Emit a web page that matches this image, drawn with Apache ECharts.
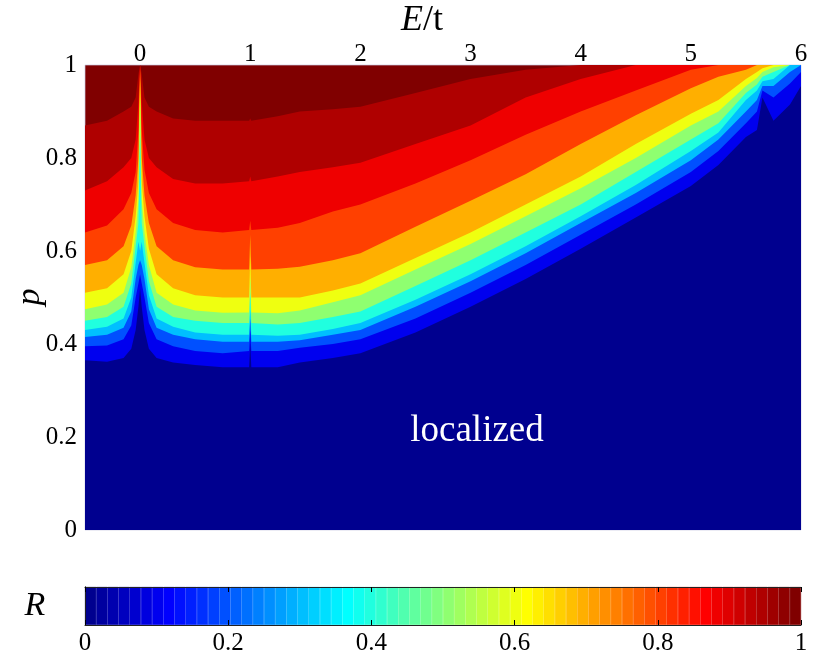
<!DOCTYPE html>
<html>
<head>
<meta charset="utf-8">
<title>R(E, p)</title>
<script src="https://cdn.jsdelivr.net/npm/echarts@6/dist/echarts.min.js"></script>
<style>
  html, body { margin: 0; padding: 0; background: #fff; }
  #main { width: 830px; height: 669px; }
</style>
</head>
<body>
<div id="main"></div>
<script>
const energy = [-0.5, -0.3, -0.15, -0.08, -0.04, -0.015, 0, 0.015, 0.04, 0.08, 0.15, 0.3, 0.5, 0.75,
  0.99, 1.0, 1.01, 1.25, 1.45, 1.75, 2.0, 2.5, 3.0, 3.5, 4.0, 4.5, 5.0, 5.25, 5.5, 5.6, 5.65, 5.75, 5.9, 6.0];

// R levels of the contours
const levels = [0.05, 0.15, 0.25, 0.35, 0.45, 0.55, 0.65, 0.75, 0.85, 0.92, 0.97];

// p at which R crosses each level, one array per level
const pR05 = [0.365, 0.362, 0.37, 0.39, 0.43, 0.48, 0.52, 0.48, 0.43, 0.39, 0.37, 0.36, 0.355, 0.35,
  0.35, 0.40, 0.35, 0.35, 0.36, 0.37, 0.38, 0.425, 0.48, 0.54, 0.605, 0.672, 0.74, 0.785, 0.845, 0.86, 0.93, 0.88, 0.915, 0.955];
const pR15 = [0.395, 0.397, 0.41, 0.44, 0.50, 0.53, 0.55, 0.53, 0.50, 0.445, 0.41, 0.395, 0.385, 0.38,
  0.385, 0.43, 0.385, 0.385, 0.392, 0.40, 0.41, 0.455, 0.51, 0.57, 0.635, 0.70, 0.77, 0.815, 0.875, 0.90, 0.945, 0.93, 0.96, 0.985];
const pR25 = [0.415, 0.42, 0.435, 0.47, 0.54, 0.57, 0.58, 0.57, 0.54, 0.475, 0.435, 0.42, 0.41, 0.405,
  0.405, 0.455, 0.405, 0.405, 0.408, 0.42, 0.43, 0.48, 0.535, 0.595, 0.66, 0.725, 0.795, 0.84, 0.90, 0.925, 0.955, 0.955, 0.985, 1];
const pR35 = [0.43, 0.437, 0.455, 0.50, 0.575, 0.62, 0.60, 0.62, 0.575, 0.505, 0.455, 0.437, 0.425, 0.42,
  0.42, 0.475, 0.42, 0.418, 0.42, 0.432, 0.445, 0.495, 0.55, 0.61, 0.675, 0.742, 0.815, 0.855, 0.925, 0.945, 0.965, 0.97, 1, 1];
const pR45 = [0.45, 0.458, 0.48, 0.53, 0.61, 0.66, 0.85, 0.66, 0.61, 0.535, 0.48, 0.458, 0.45, 0.445,
  0.445, 0.51, 0.445, 0.442, 0.445, 0.458, 0.47, 0.525, 0.58, 0.64, 0.70, 0.77, 0.84, 0.875, 0.94, 0.958, 0.975, 0.985, 1, 1];
const pR55 = [0.475, 0.485, 0.51, 0.565, 0.64, 0.71, 0.93, 0.71, 0.64, 0.57, 0.51, 0.485, 0.472, 0.467,
  0.468, 0.545, 0.468, 0.466, 0.472, 0.49, 0.505, 0.56, 0.615, 0.675, 0.735, 0.80, 0.87, 0.90, 0.955, 0.972, 0.985, 0.995, 1, 1];
const pR65 = [0.51, 0.52, 0.55, 0.60, 0.675, 0.75, 0.97, 0.75, 0.675, 0.605, 0.55, 0.52, 0.505, 0.50,
  0.50, 0.59, 0.50, 0.50, 0.50, 0.515, 0.53, 0.585, 0.64, 0.70, 0.76, 0.83, 0.895, 0.925, 0.97, 0.985, 0.993, 1, 1, 1];
const pR75 = [0.57, 0.58, 0.61, 0.655, 0.72, 0.80, 0.99, 0.80, 0.72, 0.66, 0.61, 0.58, 0.565, 0.56,
  0.56, 0.635, 0.56, 0.562, 0.566, 0.58, 0.595, 0.652, 0.708, 0.765, 0.83, 0.892, 0.95, 0.975, 0.99, 1, 1, 1, 1, 1];
const pR85 = [0.64, 0.655, 0.69, 0.725, 0.77, 0.86, 1, 0.86, 0.775, 0.725, 0.69, 0.66, 0.645, 0.64,
  0.645, 0.665, 0.645, 0.65, 0.66, 0.685, 0.70, 0.745, 0.795, 0.85, 0.90, 0.945, 0.99, 1, 1, 1, 1, 1, 1, 1];
const pR92 = [0.73, 0.75, 0.78, 0.80, 0.84, 0.92, 1, 0.92, 0.84, 0.80, 0.78, 0.755, 0.745, 0.745,
  0.75, 0.76, 0.75, 0.76, 0.77, 0.78, 0.79, 0.83, 0.87, 0.93, 0.97, 1, 1, 1, 1, 1, 1, 1, 1, 1];
const pR97 = [0.87, 0.88, 0.90, 0.91, 0.93, 0.98, 1, 0.98, 0.93, 0.91, 0.90, 0.885, 0.88, 0.88,
  0.88, 0.885, 0.88, 0.89, 0.90, 0.905, 0.91, 0.94, 0.97, 0.99, 1, 1, 1, 1, 1, 1, 1, 1, 1, 1];

const contours = [pR05, pR15, pR25, pR35, pR45, pR55, pR65, pR75, pR85, pR92, pR97];

const energyTicks = [0, 1, 2, 3, 4, 5, 6];

// MATLAB style jet(64)
function makeJet(m) {
  const n = Math.ceil(m / 4);
  const u = [];
  for (let i = 1; i <= n; i++) u.push(i / n);
  for (let i = 1; i < n; i++) u.push(1);
  for (let i = n; i >= 1; i--) u.push(i / n);
  const g0 = Math.ceil(n / 2) - (m % 4 === 1 ? 1 : 0);
  const J = [];
  for (let i = 0; i < m; i++) J.push([0, 0, 0]);
  u.forEach((v, k) => {
    const g = g0 + k + 1, r = g + n, b = g - n;
    if (r <= m) J[r - 1][0] = v;
    if (g <= m) J[g - 1][1] = v;
    if (b > 0) J[b - 1][2] = v;
  });
  return J.map(c => 'rgb(' + c.map(x => Math.round(x * 255)).join(',') + ')');
}
const jet = makeJet(64);
function colorOf(v) {
  return jet[Math.max(0, Math.min(63, Math.floor(v * 64)))];
}

var myChart = echarts.init(document.getElementById('main'));

// one filled area per contour, highest level first; each fills the band under its line
let series = [];
for (let k = levels.length - 1; k >= 0; k--) {
  const lo = k === 0 ? 0 : levels[k - 1];
  const mid = k === 0 ? 0 : (lo + levels[k]) / 2;
  series.push({
    type: 'line',
    xAxisIndex: 0,
    yAxisIndex: 0,
    data: energy.map((e, i) => [e, contours[k][i]]),
    symbol: 'none',
    lineStyle: { width: 0, opacity: 0 },
    areaStyle: { color: colorOf(mid), opacity: 1, origin: 'start' },
    z: 2 + (levels.length - k),
    silent: true,
  });
}
const topColor = colorOf((levels[levels.length - 1] + 1) / 2);

// colour bar: one cell per colour of the map
const cells = jet.map((c, i) => i);
series.push({
  type: 'bar',
  xAxisIndex: 1,
  yAxisIndex: 1,
  data: cells.map(i => ({
    value: 1,
    itemStyle: { color: jet[i], borderColor: jet[i], borderWidth: 0.5 }
  })),
  barCategoryGap: 0,
  barWidth: '100%',
  silent: true,
});

const serif = 'Liberation Serif';
const labelStyle = { fontFamily: serif, fontSize: 25, color: '#000' };

let option = {
  animation: false,
  grid: [
    { left: 85, top: 65, width: 716, height: 465, show: true,
      backgroundColor: topColor, borderColor: 'rgba(200,200,225,0.7)', borderWidth: 1 },
    { left: 85, top: 587, width: 716, height: 38 }
  ],
  xAxis: [
    {
      gridIndex: 0, type: 'value', position: 'top', min: -0.5, max: 6,
      axisLine: { show: false }, axisTick: { show: false }, splitLine: { show: false },
      axisLabel: Object.assign({ customValues: energyTicks, margin: -2 }, labelStyle)
    },
    {
      gridIndex: 1, type: 'category', show: false, position: 'bottom',
      data: cells
    },
    {
      gridIndex: 1, type: 'value', position: 'bottom', min: 0, max: 1, interval: 0.2, z: 10,
      axisLine: { show: true, lineStyle: { color: '#222', width: 1 } },
      axisTick: { show: true, inside: true, length: 5, lineStyle: { color: '#000', width: 1 } },
      splitLine: { show: false },
      axisLabel: Object.assign({ margin: 6 }, labelStyle)
    },
    {
      gridIndex: 1, type: 'value', position: 'top', min: 0, max: 1, interval: 0.2, z: 10,
      axisLine: { show: true, lineStyle: { color: '#222', width: 1 } },
      axisTick: { show: true, inside: true, length: 5, lineStyle: { color: '#000', width: 1 } },
      splitLine: { show: false },
      axisLabel: { show: false }
    }
  ],
  yAxis: [
    {
      gridIndex: 0, type: 'value', min: 0, max: 1, interval: 0.2,
      axisLine: { show: false }, axisTick: { show: false }, splitLine: { show: false },
      axisLabel: Object.assign({ margin: 8 }, labelStyle)
    },
    {
      gridIndex: 1, type: 'value', min: 0, max: 1, position: 'left', z: 10,
      axisLine: { show: true, lineStyle: { color: '#222', width: 1 } },
      axisTick: { show: false }, axisLabel: { show: false }, splitLine: { show: false }
    },
    {
      gridIndex: 1, type: 'value', min: 0, max: 1, position: 'right', z: 10,
      axisLine: { show: true, lineStyle: { color: '#222', width: 1 } },
      axisTick: { show: false }, axisLabel: { show: false }, splitLine: { show: false }
    }
  ],
  graphic: [
    { type: 'text', x: 422, y: 21, z: 100,
      style: { text: '{e|E}/t', fill: '#000', font: '36px "Liberation Serif"',
        align: 'center', verticalAlign: 'middle',
        rich: { e: { fontStyle: 'italic', fontFamily: serif, fontSize: 36 } } } },
    { type: 'text', x: 30, y: 297, rotation: Math.PI / 2, z: 100,
      style: { text: 'p', fill: '#000', font: 'italic 34px "Liberation Serif"',
        align: 'center', verticalAlign: 'middle' } },
    { type: 'text', x: 35, y: 606, z: 100,
      style: { text: 'R', fill: '#000', font: 'italic 34px "Liberation Serif"',
        align: 'center', verticalAlign: 'middle' } },
    { type: 'text', x: 477, y: 431, z: 100,
      style: { text: 'localized', fill: '#fff', font: '37px "Liberation Serif"',
        align: 'center', verticalAlign: 'middle' } }
  ],
  series: series
};

myChart.setOption(option);
</script>
</body>
</html>
